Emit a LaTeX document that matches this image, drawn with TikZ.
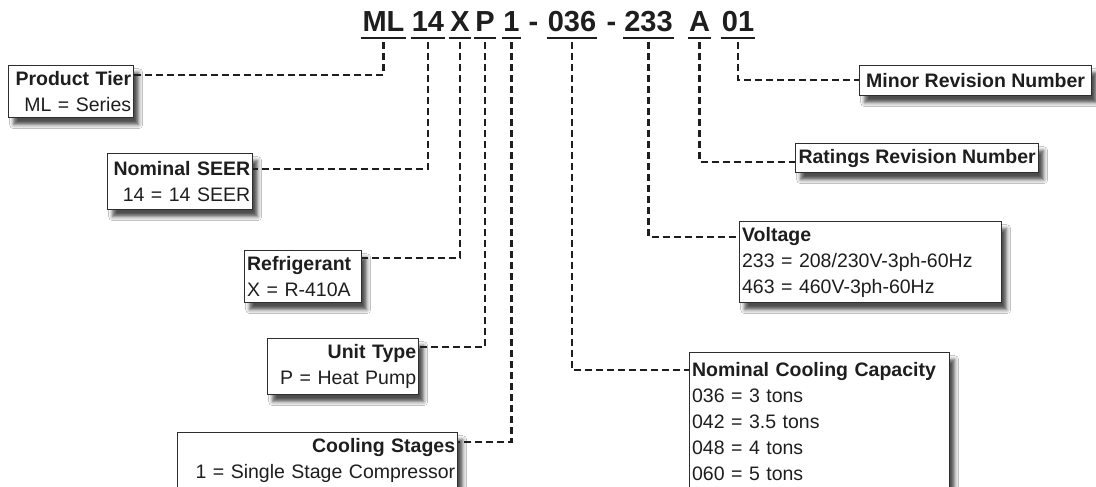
\documentclass[tikz,border=0pt]{standalone}
\usepackage{fontspec}
\setmainfont{Liberation Sans}
\usetikzlibrary{shadows.blur}
\definecolor{ink}{HTML}{1E1E1E}
\definecolor{edge}{HTML}{2E2E2E}
\begin{document}
\begin{tikzpicture}[x=1pt,y=-1pt,
  code/.style={font=\fontsize{29}{30}\selectfont\bfseries, text=ink, anchor=base, inner xsep=1pt, inner ysep=0pt, text depth=0pt},
  uline/.style={line width=2.6pt, draw=ink},
  conn/.style={draw=ink, line width=2.4pt, dash pattern=on 7pt off 4pt},
  box/.style={draw=edge, line width=1.3pt, fill=white, text=ink, font=\fontsize{19.5}{26}\selectfont, inner xsep=2.5pt, inner ysep=0pt, anchor=north west,
    blur shadow={shadow xshift=5pt, shadow yshift=-7pt, shadow blur radius=4pt, shadow opacity=70}},
]
\fill[white] (0,0) rectangle (1096,487);
\useasboundingbox (0,0) rectangle (1096,487);

% code string
\node[code] (cML) at (383.5,32) {ML};
\node[code] (c14) at (428,32) {14};
\node[code] (cX) at (460,32) {X};
\node[code] (cP) at (485,32) {P};
\node[code] (c1) at (511.5,32) {1};
\node[code] (d1) at (533.5,32) {-};
\node[code] (c036) at (572,32) {036};
\node[code] (d2) at (611.5,32) {-};
\node[code] (c233) at (648.5,32) {233};
\node[code] (cA) at (699.5,32) {A};
\node[code] (c01) at (738,32) {01};
\foreach \n in {cML,c14,cX,cP,c1,c036,c233,cA,c01}
  \draw[uline] ([yshift=-6pt]\n.south west) -- ([yshift=-6pt]\n.south east);

% boxes
\node[box, text width=120pt, minimum height=52pt, align=right] (PT) at (8,65) {\textbf{Product Tier}\\ML = Series};
\node[box, text width=140pt, minimum height=56pt, align=right] (SEER) at (107,153) {\textbf{Nominal SEER}\\14 = 14 SEER};
\node[box, text width=112pt, minimum height=52pt, align=left] (REF) at (244,250) {\textbf{Refrigerant}\\X = R-410A};
\node[box, text width=146pt, minimum height=56pt, align=right] (UT) at (267,338) {\textbf{Unit Type}\\P = Heat Pump};
\node[box, text width=275pt, minimum height=56pt, align=right] (CS) at (177,432) {\textbf{Cooling Stages}\\1 = Single Stage Compressor};
\node[box, minimum width=232pt, minimum height=30pt] (MRN) at (859,65) {\textbf{Minor Revision Number}};
\node[box, minimum width=243pt, minimum height=29pt] (RRN) at (795,143) {\textbf{Ratings Revision Number}};
\node[box, text width=257pt, minimum height=81pt, align=left] (VOL) at (739,221) {\textbf{Voltage}\\233 = 208/230V-3ph-60Hz\\463 = 460V-3ph-60Hz};
\node[box, text width=255pt, minimum height=138pt, align=left] (NCC) at (689,352) {\textbf{Nominal Cooling Capacity}\\036 = 3 tons\\042 = 3.5 tons\\048 = 4 tons\\060 = 5 tons};

% connectors
\draw[conn] ([yshift=-10pt]cML.south) |- ([yshift=-10pt]PT.north east);
\draw[conn] ([yshift=-10pt]c14.south) |- ([yshift=-16pt]SEER.north east);
\draw[conn] ([yshift=-10pt]cX.south) |- ([yshift=-8pt]REF.north east);
\draw[conn] ([yshift=-10pt]cP.south) |- ([yshift=-9pt]UT.north east);
\draw[conn] ([yshift=-10pt]c1.south) |- ([yshift=-10pt]CS.north east);
\draw[conn] ([yshift=-10pt]c036.south) |- ([yshift=-18pt]NCC.north west);
\draw[conn] ([yshift=-10pt]c233.south) |- ([yshift=-16pt]VOL.north west);
\draw[conn] ([yshift=-10pt]cA.south) |- ([yshift=-19pt]RRN.north west);
\draw[conn] ([yshift=-10pt]c01.south) |- ([yshift=-15pt]MRN.north west);
\end{tikzpicture}
\end{document}
